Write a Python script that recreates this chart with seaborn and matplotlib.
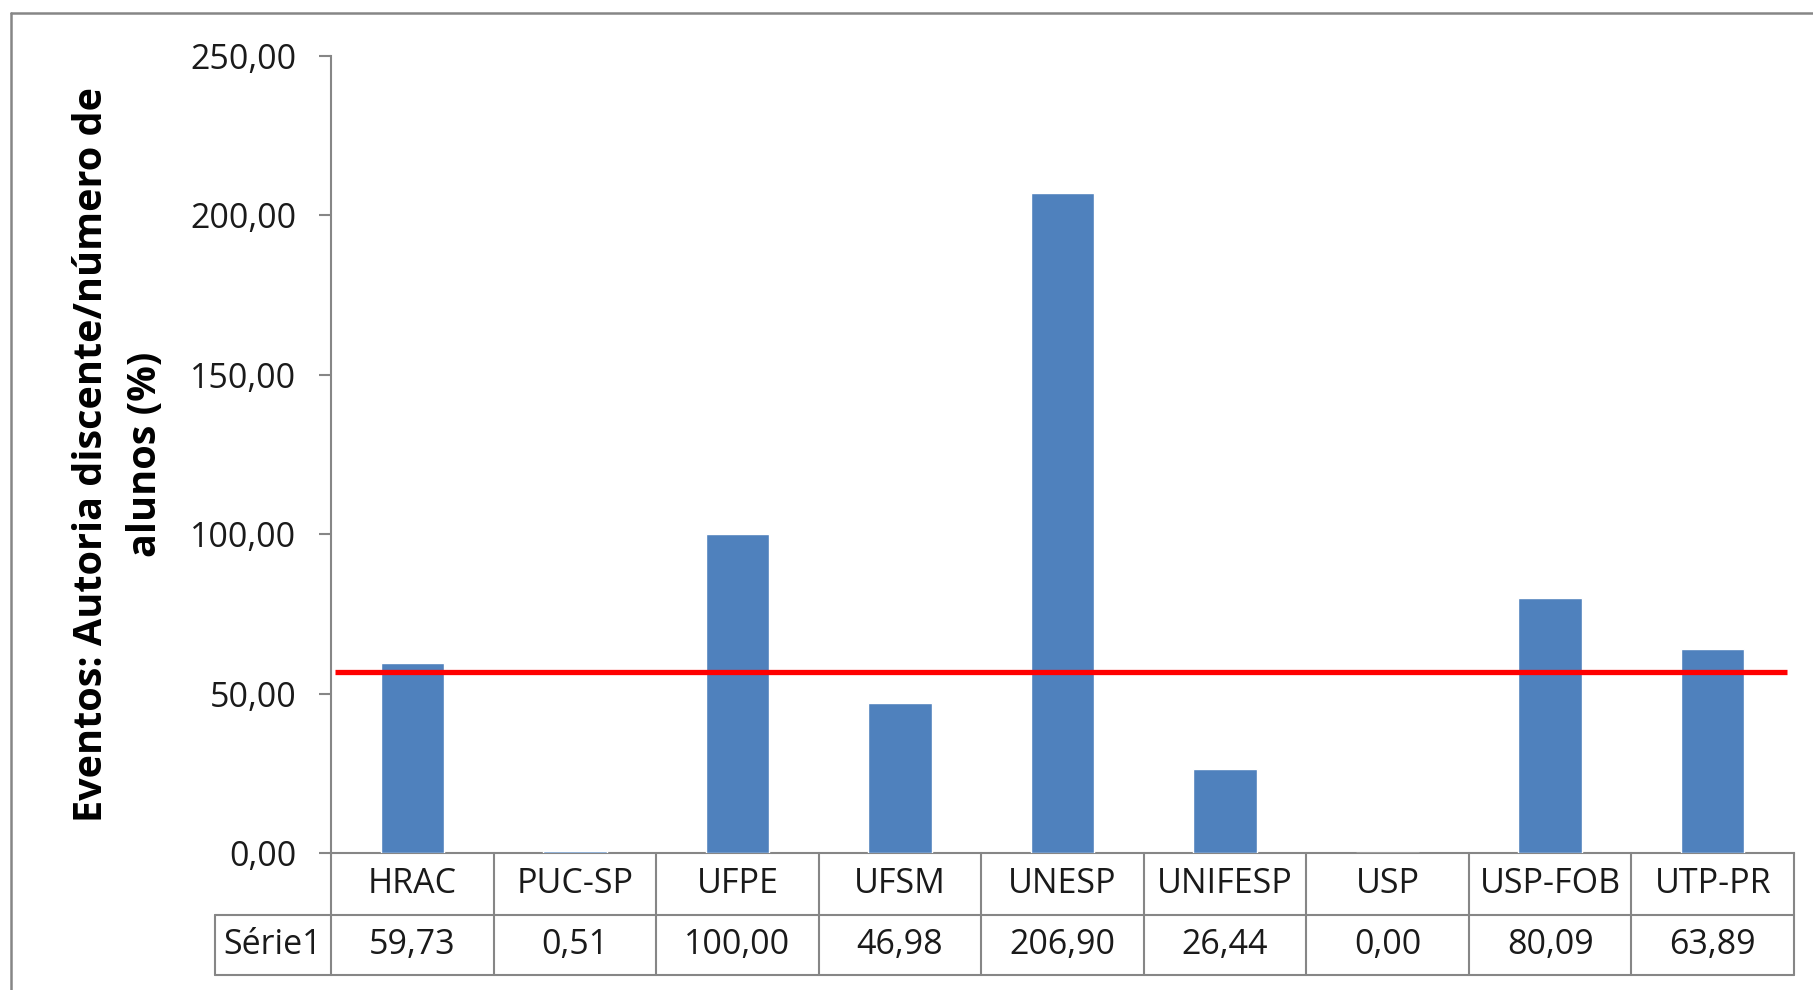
import matplotlib
matplotlib.use("Agg")
import matplotlib.pyplot as plt
import matplotlib.transforms as mtransforms
from matplotlib.lines import Line2D
import seaborn as sns
import pandas as pd

categories = ["HRAC", "PUC-SP", "UFPE", "UFSM", "UNESP", "UNIFESP", "USP", "USP-FOB", "UTP-PR"]
values = [59.73, 0.51, 100.00, 46.98, 206.90, 26.44, 0.00, 80.09, 63.89]
value_labels = ["59,73", "0,51", "100,00", "46,98", "206,90", "26,44", "0,00", "80,09", "63,89"]
series_name = "Série1"
reference_value = 56.8
yticks = [0, 50, 100, 150, 200, 250]
ytick_labels = ["0,00", "50,00", "100,00", "150,00", "200,00", "250,00"]
ylabel = "Eventos: Autoria discente/número de\nalunos (%)"

sns.set_theme(style="white")
plt.rcParams["font.family"] = ["Open Sans", "DejaVu Sans"]

W, H = 1813, 990
fig = plt.figure(figsize=(W / 100, H / 100), dpi=100)
fig.patch.set_facecolor("white")

def fx(px):
    return px / W

def fy(py):
    return (H - py) / H

ax_left, ax_right, ax_top, ax_zero = 331, 1794, 56, 853
ax = fig.add_axes([fx(ax_left), fy(ax_zero), fx(ax_right - ax_left), fy(ax_top) - fy(ax_zero)])

df = pd.DataFrame({"cat": categories, "val": values})
sns.barplot(data=df, x="cat", y="val", ax=ax, color="#4F81BD", saturation=1, width=0.39)
for p in ax.patches:
    p.set_zorder(3)

ax.set_xlim(-0.5, len(categories) - 0.5)
ax.set_ylim(0, 250)
ax.set_yticks(yticks)
ax.set_yticklabels(ytick_labels, fontsize=24.5, color="#1a1a1a")
ax.tick_params(axis="y", direction="out", length=9, width=1.5, color="#868686", pad=16, left=True)
ax.set_xticks([])
ax.set_xlabel("")
for s in ["top", "right"]:
    ax.spines[s].set_visible(False)
for s in ["left", "bottom"]:
    ax.spines[s].set_color("#868686")
    ax.spines[s].set_linewidth(1.5)

ax.set_ylabel(ylabel, fontsize=28.5, fontweight="bold", color="black", va="center", linespacing=1.5)
ax.yaxis.set_label_coords((119 - ax_left) / (ax_right - ax_left), 0.5)

# reference line
ax.hlines(reference_value, -0.475, 8.46, colors="#FF0000", linewidth=3.8, zorder=5)

# data table
trans = mtransforms.blended_transform_factory(ax.transData, fig.transFigure)
gray = "#868686"
row1_bot, tab_bot = 915, 975
n = len(categories)
ax.add_line(Line2D([-0.5, n - 0.5], [fy(row1_bot)] * 2, transform=trans, color=gray, lw=1.5, clip_on=False))
ax.add_line(Line2D([-0.5, n - 0.5], [fy(tab_bot)] * 2, transform=trans, color=gray, lw=1.5, clip_on=False))
for i in range(n + 1):
    x = i - 0.5
    ax.add_line(Line2D([x, x], [fy(ax_zero), fy(tab_bot)], transform=trans, color=gray, lw=1.5, clip_on=False))
fig.add_artist(Line2D([fx(215), fx(ax_left)], [fy(row1_bot)] * 2, color=gray, lw=1.5))
fig.add_artist(Line2D([fx(215), fx(ax_left)], [fy(tab_bot)] * 2, color=gray, lw=1.5))
fig.add_artist(Line2D([fx(215), fx(215)], [fy(row1_bot), fy(tab_bot)], color=gray, lw=1.5))
fig.text(fx((215 + ax_left) / 2), fy((row1_bot + tab_bot) / 2), series_name, ha="center", va="center",
         fontsize=24.5, color="#1a1a1a")
for i, (c, v) in enumerate(zip(categories, value_labels)):
    ax.text(i, fy((ax_zero + row1_bot) / 2), c, transform=trans, ha="center", va="center", fontsize=24.5,
            color="#1a1a1a")
    ax.text(i, fy((row1_bot + tab_bot) / 2), v, transform=trans, ha="center", va="center", fontsize=24.5,
            color="#1a1a1a")

# outer chart border (top and left visible)
fig.add_artist(Line2D([fx(11), fx(W + 5)], [fy(13), fy(13)], color=gray, lw=1.8))
fig.add_artist(Line2D([fx(11), fx(11)], [fy(13), fy(H + 5)], color=gray, lw=1.8))

fig.savefig("out.png", dpi=100, facecolor="white")
